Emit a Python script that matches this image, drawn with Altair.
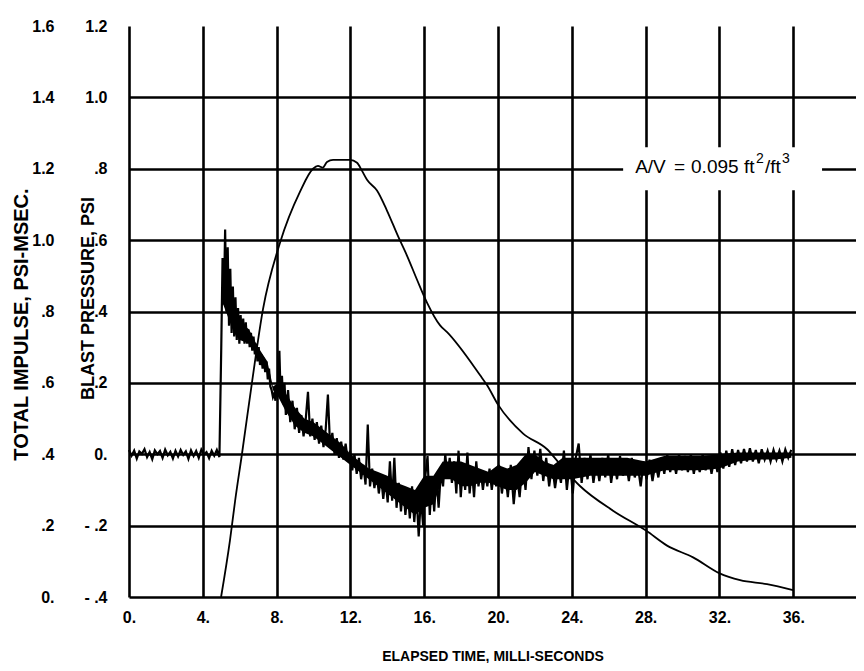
import altair as alt
import pandas as pd

FONT = "Liberation Sans"

# ---------------- axis ticks / labels ----------------
x_ticks = [0, 4, 8, 12, 16, 20, 24, 28, 32, 36]
x_labels = ["0.", "4.", "8.", "12.", "16.", "20.", "24.", "28.", "32.", "36."]
p_ticks = [-0.4, -0.2, 0.0, 0.2, 0.4, 0.6, 0.8, 1.0, 1.2]
p_labels = ["- .4", "- .2", "0.", ".2", ".4", ".6", ".8", "1.0", "1.2"]
i_ticks = [0.0, 0.2, 0.4, 0.6, 0.8, 1.0, 1.2, 1.4, 1.6]
i_labels = ["0.", ".2", ".4", ".6", ".8", "1.0", "1.2", "1.4", "1.6"]

# ---------------- total impulse curve (psi-msec) ----------------
impulse_t = [4.99, 5.47, 5.75, 6.12, 6.67, 7.26, 8.18, 9.27, 9.97, 10.24, 10.50, 10.73,
             11.06, 11.98, 12.36, 12.63, 12.90, 13.44, 13.98, 14.58, 15.07, 15.61, 16.15,
             16.86, 17.24, 19.02, 19.40, 20.00, 21.36, 22.66, 23.36, 24.44, 26.23, 28.02,
             29.16, 30.57, 31.98, 33.12, 34.58, 35.99]
impulse_v = [0.0, 0.158, 0.269, 0.40, 0.603, 0.806, 0.992, 1.136, 1.20, 1.208, 1.203, 1.219,
             1.225, 1.225, 1.217, 1.194, 1.169, 1.139, 1.083, 1.011, 0.956, 0.889, 0.825,
             0.761, 0.742, 0.622, 0.594, 0.539, 0.458, 0.414, 0.372, 0.311, 0.242, 0.186,
             0.144, 0.111, 0.067, 0.047, 0.036, 0.019]

# ---------------- blast pressure trace (psi), sampled segments ----------------
seg_a_start, seg_a_step = 0.0, 0.14
seg_a = [0.012, -0.004, 0.010, -0.012, 0.008, 0.001, 0.014, -0.008, 0.006, -0.014, 0.011, 0.000,
         0.009, -0.010, 0.013, -0.003, 0.007, -0.012, 0.010, -0.006, 0.012, -0.002, 0.008, -0.013,
         0.011, -0.005, 0.009, -0.010, 0.013, -0.001, 0.006, -0.011, 0.010, -0.004, 0.012, -0.008]

seg_b_start, seg_b_step = 5.0, 0.07
seg_b = [0.30, 0.55, 0.42, 0.63, 0.40, 0.58, 0.36, 0.52, 0.34, 0.47,
         0.33, 0.44, 0.32, 0.41, 0.31, 0.39, 0.32, 0.38, 0.31, 0.37,
         0.31, 0.35, 0.30, 0.34, 0.29, 0.33, 0.28, 0.31, 0.26, 0.30,
         0.25, 0.28, 0.24, 0.27, 0.23, 0.26, 0.21, 0.24, 0.19, 0.18,
         0.16, 0.17, 0.15, 0.19, 0.17, 0.29, 0.16, 0.22, 0.14, 0.20]

seg_c_start, seg_c_step = 8.5, 0.12
seg_c = [0.11, 0.18, 0.09, 0.15, 0.07, 0.13, 0.06, 0.11, 0.05, 0.10, 0.175, 0.05,
         0.10, 0.04, 0.09, 0.03, 0.08, 0.02, 0.07, 0.167, 0.02, 0.06, 0.00, 0.045,
         -0.01, 0.035, -0.015, 0.03, -0.02, 0.01, -0.045, 0.00, -0.055, -0.01, -0.07, -0.03,
         -0.085, 0.083, -0.09, -0.04, -0.095, -0.05, -0.11, -0.06, -0.125, -0.07, -0.135, -0.02,
         -0.13, -0.01, -0.15, -0.08, -0.16, -0.09, -0.17, -0.10, -0.18, -0.09, -0.19, -0.11,
         -0.23, -0.12, -0.20, -0.06, -0.005, -0.17, -0.07, -0.16, -0.06, -0.15, -0.05, -0.09,
         0.00, -0.065, -0.01, -0.08, -0.02, -0.11, 0.01, -0.12, -0.03, -0.10, 0.005, -0.11,
         -0.04, -0.12, -0.02, -0.09, -0.045, -0.10, -0.05, -0.09, -0.04, -0.10, -0.05, -0.09]

seg_d_start, seg_d_step = 20.05, 0.16
seg_d = [-0.03, -0.11, -0.04, -0.12, -0.03, -0.14, -0.05, -0.12, -0.02, -0.10,
         0.02, -0.07, 0.01, -0.06, 0.015, -0.075, -0.01, -0.09, -0.03, -0.095,
         -0.035, -0.08, 0.01, -0.10, -0.02, -0.11, -0.01, 0.03, -0.08, -0.01,
         -0.07, 0.00, -0.08, -0.02, -0.075, -0.01, -0.065, 0.00, -0.08, -0.02,
         -0.07, -0.005, -0.06, -0.02, -0.075, -0.01, -0.065, -0.03, -0.09, -0.02,
         -0.07, -0.015, -0.075, -0.025, -0.065, -0.01, -0.055, 0.00, -0.05, -0.01,
         -0.055, 0.00, -0.045, -0.005, -0.05, 0.00, -0.055, -0.01, -0.05, 0.00,
         -0.045, -0.005, -0.055, -0.01, -0.05, 0.005, -0.04, 0.01, -0.035, 0.014,
         -0.03, 0.012, -0.025, 0.015, -0.02, 0.017, -0.02, 0.012, -0.025, 0.014,
         -0.015, 0.01, -0.02, 0.012, -0.015, 0.01, -0.02, 0.013, -0.01, 0.012]

# dense core of the noisy trace (lower / upper edge of the solid black band)
band_t = [5.1, 5.4, 5.7, 6.0, 6.5, 7.0, 7.5, 7.8, 8.1, 8.5, 9.0, 9.5, 10.0, 10.5, 11.0, 11.5,
          12.0, 12.5, 13.0, 13.5, 14.0, 14.5, 15.0, 15.5, 16.0, 16.5, 17.0, 17.5, 18.0, 18.5,
          19.0, 19.5, 20.0, 20.5, 21.0, 21.5, 22.0, 22.5, 23.0, 23.5, 24.0, 25.0, 26.0, 27.0,
          28.0, 29.0, 30.0, 31.0, 32.0, 33.0, 34.0, 35.0, 35.9]
band_low = [0.42, 0.38, 0.34, 0.32, 0.31, 0.28, 0.24, 0.18, 0.16, 0.12, 0.08, 0.06, 0.05, 0.03,
            0.01, -0.01, -0.03, -0.05, -0.07, -0.09, -0.11, -0.13, -0.15, -0.17, -0.15, -0.14,
            -0.07, -0.07, -0.09, -0.09, -0.08, -0.08, -0.09, -0.10, -0.10, -0.08, -0.05, -0.06,
            -0.07, -0.07, -0.07, -0.06, -0.06, -0.06, -0.06, -0.045, -0.045, -0.045, -0.04,
            -0.02, -0.015, -0.015, -0.01]
band_high = [0.55, 0.50, 0.42, 0.37, 0.35, 0.30, 0.26, 0.19, 0.20, 0.17, 0.13, 0.10, 0.09, 0.07,
             0.05, 0.03, 0.00, -0.02, -0.04, -0.05, -0.06, -0.08, -0.09, -0.10, -0.06, -0.06,
             -0.02, -0.02, -0.02, -0.03, -0.04, -0.05, -0.03, -0.04, -0.03, 0.00, 0.00, -0.02,
             -0.03, -0.01, -0.01, -0.01, -0.01, -0.01, -0.02, -0.005, -0.005, -0.005, 0.00,
             0.005, 0.005, 0.005, 0.005]

# ---------------- annotation ----------------
ann_main_text = ["A/V", "=", "0.095", "ft", "/ft"]
ann_main_x = [27.43, 29.54, 30.46, 33.33, 34.47]
ann_sup_text = ["2", "3"]
ann_sup_x = [33.98, 35.39]
ann_y = 0.8
box_x = [26.78, 37.56]
box_y = [0.74, 0.86]

# ---------------- build tables ----------------
rows = []
for start, step, vals in [(seg_a_start, seg_a_step, seg_a), (seg_b_start, seg_b_step, seg_b),
                          (seg_c_start, seg_c_step, seg_c), (seg_d_start, seg_d_step, seg_d)]:
    for i, v in enumerate(vals):
        rows.append({"t": round(start + i * step, 3), "p": v})
p_df = pd.DataFrame(rows)
band_df = pd.DataFrame({"t": band_t, "p": band_low, "p2": band_high})
i_df = pd.DataFrame({"t": impulse_t, "v": impulse_v})
main_df = pd.DataFrame({"t": ann_main_x, "p": [ann_y] * len(ann_main_x), "s": ann_main_text})
sup_df = pd.DataFrame({"t": ann_sup_x, "p": [ann_y] * len(ann_sup_x), "s": ann_sup_text})
box_df = pd.DataFrame({"t": [box_x[0]], "t2": [box_x[1]], "p": [box_y[0]], "p2": [box_y[1]]})


def label_expr(labels, index_expr):
    arr = ",".join("'" + s + "'" for s in labels)
    return "[" + arr + "][" + index_expr + "]"


def x_scale():
    return alt.Scale(domain=[0, 39.4], nice=False, zero=False)


def p_scale():
    return alt.Scale(domain=[-0.4, 1.2], nice=False, zero=False)


i_scale = alt.Scale(domain=[0, 1.6], nice=False, zero=False)

x_axis = alt.Axis(
    values=x_ticks, labelExpr=label_expr(x_labels, "round(datum.value / 4)"),
    title="ELAPSED TIME, MILLI-SECONDS", grid=True, gridColor="black", gridWidth=2.6,
    domain=False, ticks=False, labelPadding=12,
    labelFontSize=16, labelFont=FONT, labelFontWeight="bold", labelColor="black",
    labelFlush=False, labelOverlap=False,
    titleFont=FONT, titleFontSize=14, titleFontWeight="bold", titleColor="black",
    titlePadding=24)

p_axis = alt.Axis(
    values=p_ticks, labelExpr=label_expr(p_labels, "round((datum.value + 0.4) * 5)"),
    title="BLAST PRESSURE, PSI", orient="left", grid=True, gridColor="black", gridWidth=2.6,
    gridOpacity=alt.condition("datum.value > 1.1", alt.value(0), alt.value(1)),
    domain=False, ticks=False, tickSize=0, labelPadding=22,
    labelFontSize=16, labelFont=FONT, labelFontWeight="bold", labelColor="black",
    labelFlush=False, labelOverlap=False,
    titleFont=FONT, titleFontSize=18, titleFontWeight="bold", titleColor="black",
    titleX=-41, titleY=272, titleAngle=270, titleAlign="center", titleBaseline="middle")

i_axis = alt.Axis(
    values=i_ticks, labelExpr=label_expr(i_labels, "round(datum.value * 5)"),
    title="TOTAL IMPULSE, PSI-MSEC.", orient="left", grid=False,
    domain=False, ticks=False, tickSize=0, labelPadding=75,
    labelFontSize=16, labelFont=FONT, labelFontWeight="bold", labelColor="black",
    labelFlush=False, labelOverlap=False,
    titleFont=FONT, titleFontSize=20, titleFontWeight="bold", titleColor="black",
    titleX=-108, titleY=298, titleAngle=270, titleAlign="center", titleBaseline="middle")

band = alt.Chart(band_df).mark_area(color="black", interpolate="linear").encode(
    x=alt.X("t:Q", scale=x_scale(), axis=x_axis),
    y=alt.Y("p:Q", scale=p_scale(), axis=None), y2="p2:Q",
)

pressure_line = alt.Chart(p_df).mark_line(color="black", strokeWidth=2.2).encode(
    x=alt.X("t:Q", scale=x_scale(), axis=x_axis),
    y=alt.Y("p:Q", scale=p_scale(), axis=p_axis),
)

box = alt.Chart(box_df).mark_rect(color="white").encode(
    x=alt.X("t:Q", scale=x_scale(), axis=x_axis), x2="t2:Q",
    y=alt.Y("p:Q", scale=p_scale(), axis=None), y2="p2:Q",
)

ann_main = alt.Chart(main_df).mark_text(
    align="left", baseline="middle", font=FONT, fontSize=19, color="black", dy=-2
).encode(
    x=alt.X("t:Q", scale=x_scale(), axis=x_axis),
    y=alt.Y("p:Q", scale=p_scale(), axis=None),
    text="s:N",
)

ann_sup = alt.Chart(sup_df).mark_text(
    align="left", baseline="middle", font=FONT, fontSize=14, color="black", dy=-10
).encode(
    x=alt.X("t:Q", scale=x_scale(), axis=x_axis),
    y=alt.Y("p:Q", scale=p_scale(), axis=None),
    text="s:N",
)

impulse_line = alt.Chart(i_df).mark_line(color="black", strokeWidth=1.8, interpolate="monotone").encode(
    x=alt.X("t:Q", scale=x_scale(), axis=x_axis),
    y=alt.Y("v:Q", scale=i_scale, axis=i_axis),
)

chart = alt.layer(band, pressure_line, box, ann_main, ann_sup, impulse_line).resolve_scale(
    y="independent"
).properties(
    width=727, height=571,
    padding={"left": 3, "top": 10, "right": 0, "bottom": 0},
    background="white",
).configure_view(strokeWidth=0)

chart.save("out.html", embed_options={"renderer": "svg", "actions": False})
